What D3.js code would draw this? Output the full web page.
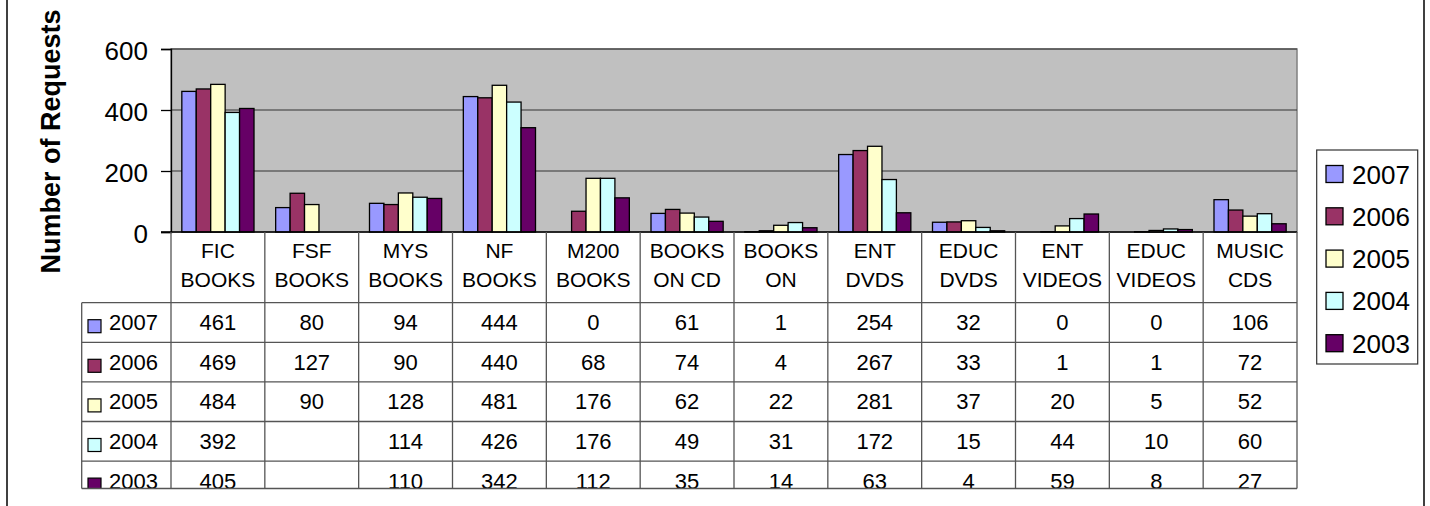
<!DOCTYPE html>
<html>
<head>
<meta charset="utf-8">
<script src="https://d3js.org/d3.v7.min.js"></script>
<style>
  body { margin: 0; background: #fff; }
  text { font-family: "Liberation Sans", Arial, sans-serif; fill: #000; }
</style>
</head>
<body>
<div id="chart"></div>
<script>
/* DATA */
// categories, split on two lines like the table header
let categories = ["FIC BOOKS", "FSF BOOKS", "MYS BOOKS", "NF BOOKS", "M200 BOOKS", "BOOKS ON CD",
  "BOOKS ON", "ENT DVDS", "EDUC DVDS", "ENT VIDEOS", "EDUC VIDEOS", "MUSIC CDS"]
let headerLines = [["FIC", "BOOKS"], ["FSF", "BOOKS"], ["MYS", "BOOKS"], ["NF", "BOOKS"], ["M200", "BOOKS"],
  ["BOOKS", "ON CD"], ["BOOKS", "ON"], ["ENT", "DVDS"], ["EDUC", "DVDS"], ["ENT", "VIDEOS"],
  ["EDUC", "VIDEOS"], ["MUSIC", "CDS"]]

let years = ["2007", "2006", "2005", "2004", "2003"]

let v2007 = [461, 80, 94, 444, 0, 61, 1, 254, 32, 0, 0, 106]
let v2006 = [469, 127, 90, 440, 68, 74, 4, 267, 33, 1, 1, 72]
let v2005 = [484, 90, 128, 481, 176, 62, 22, 281, 37, 20, 5, 52]
let v2004 = [392, null, 114, 426, 176, 49, 31, 172, 15, 44, 10, 60]
let v2003 = [405, null, 110, 342, 112, 35, 14, 63, 4, 59, 8, 27]

let yTicks = [0, 200, 400, 600]

let seriesValues = [v2007, v2006, v2005, v2004, v2003]
let colors = ["#9999FF", "#993366", "#FFFFCC", "#CCFFFF", "#660066"]

/* SVG OBJECT */
let svgWidth = 1430
let svgHeight = 506

let svg = d3.select("#chart").append("svg").attr("width", svgWidth).attr("height", svgHeight)

// outer chart frame (top and bottom are cut off in the picture)
svg.append("line").attr("x1", 7).attr("x2", 7).attr("y1", 0).attr("y2", svgHeight)
  .attr("stroke", "#404040").attr("stroke-width", 2)
svg.append("line").attr("x1", 1424).attr("x2", 1424).attr("y1", 0).attr("y2", svgHeight)
  .attr("stroke", "#404040").attr("stroke-width", 2)

/* PLOT AREA */
let plot = { left: 171, right: 1297, top: 49, bottom: 232 }

let x = d3.scaleBand().domain(categories).range([plot.left, plot.right]).padding(0)
let xYear = d3.scaleBand().domain(years).range([0, x.bandwidth()]).paddingInner(0).paddingOuter(0.75)
let y = d3.scaleLinear().domain([0, 600]).range([plot.bottom, plot.top])
let color = d3.scaleOrdinal().domain(years).range(colors)

// grey background
svg.append("rect")
  .attr("x", plot.left).attr("y", plot.top)
  .attr("width", plot.right - plot.left).attr("height", plot.bottom - plot.top)
  .attr("fill", "#C0C0C0").attr("stroke", "#808080").attr("stroke-width", 1.5)

// gridlines
svg.append("g")
  .selectAll("line")
  .data(yTicks.filter(d => d > 0))
  .join("line")
  .attr("x1", plot.left).attr("x2", plot.right)
  .attr("y1", d => y(d)).attr("y2", d => y(d))
  .attr("stroke", "#333").attr("stroke-width", 1.2)

// bars
let rows = []
years.forEach((yr, i) => {
  seriesValues[i].forEach((v, j) => {
    if (v !== null) rows.push({ year: yr, cat: categories[j], value: v })
  })
})

svg.append("g")
  .selectAll("rect")
  .data(rows)
  .join("rect")
  .attr("x", d => x(d.cat) + xYear(d.year))
  .attr("y", d => y(d.value))
  .attr("width", xYear.bandwidth())
  .attr("height", d => y(0) - y(d.value))
  .attr("fill", d => color(d.year))
  .attr("stroke", "#000").attr("stroke-width", 1.3)

// y axis
let yAxis = svg.append("g")
  .attr("transform", `translate(${plot.left},0)`)
  .call(d3.axisLeft(y).tickValues(yTicks).tickSize(10).tickPadding(13))
yAxis.select(".domain").attr("stroke", "#000").attr("stroke-width", 1.3)
yAxis.selectAll(".tick line").attr("stroke", "#000").attr("stroke-width", 1.3)
yAxis.selectAll(".tick text")
  .style("font-size", "26px").attr("font-family", null).attr("dy", "0.42em")

// baseline
svg.append("line")
  .attr("x1", plot.left - 10).attr("x2", plot.right)
  .attr("y1", y(0)).attr("y2", y(0))
  .attr("stroke", "#000").attr("stroke-width", 1.3)

// axis title
svg.append("text")
  .attr("transform", `translate(60,${(plot.top + plot.bottom) / 2 + 1}) rotate(-90)`)
  .attr("text-anchor", "middle")
  .style("font-size", "27px").style("font-weight", "bold")
  .text("Number of Requests")

/* DATA TABLE */
let rowTop = 302.7
let rowH = 39.6
let tableLeft = 81.7
let tableBottom = 488.5

svg.append("clipPath").attr("id", "tableClip")
  .append("rect").attr("x", 0).attr("y", plot.bottom).attr("width", svgWidth).attr("height", tableBottom - plot.bottom)

let table = svg.append("g").attr("clip-path", "url(#tableClip)")

// header texts
let header = table.append("g")
  .selectAll("text")
  .data(categories)
  .join("text")
  .attr("x", d => x(d) + x.bandwidth() / 2)
  .attr("y", plot.bottom + 26)
  .attr("text-anchor", "middle")
  .style("font-size", "21px")
header.selectAll("tspan")
  .data((d, i) => headerLines[i])
  .join("tspan")
  .attr("x", function () { return d3.select(this.parentNode).attr("x") })
  .attr("dy", (d, i) => i === 0 ? 0 : 29)
  .text(d => d)

// cell values
years.forEach((yr, i) => {
  let top = rowTop + i * rowH
  table.append("g")
    .selectAll("text")
    .data(seriesValues[i])
    .join("text")
    .attr("x", (d, j) => x(categories[j]) + x.bandwidth() / 2)
    .attr("y", top + 27.5)
    .attr("text-anchor", "middle")
    .style("font-size", "22px")
    .text(d => d === null ? "" : d)

  // row label with colour key
  table.append("rect")
    .attr("x", 88).attr("y", top + 17)
    .attr("width", 13).attr("height", 13)
    .attr("fill", color(yr)).attr("stroke", "#000").attr("stroke-width", 1.2)
  table.append("text")
    .attr("x", 109).attr("y", top + 27.5)
    .style("font-size", "22px")
    .text(yr)
})

// table grid
let grid = svg.append("g").attr("stroke", "#555").attr("stroke-width", 1.3)
// horizontal row separators
grid.selectAll("line.h")
  .data(d3.range(years.length + 1))
  .join("line")
  .attr("class", "h")
  .attr("x1", tableLeft).attr("x2", plot.right)
  .attr("y1", i => Math.min(rowTop + i * rowH, tableBottom))
  .attr("y2", i => Math.min(rowTop + i * rowH, tableBottom))
// vertical column separators
grid.selectAll("line.v")
  .data(categories.concat(["end"]))
  .join("line")
  .attr("class", "v")
  .attr("x1", d => d === "end" ? plot.right : x(d))
  .attr("x2", d => d === "end" ? plot.right : x(d))
  .attr("y1", plot.bottom).attr("y2", tableBottom)
// left edge of row labels
grid.append("line")
  .attr("x1", tableLeft).attr("x2", tableLeft)
  .attr("y1", rowTop).attr("y2", tableBottom)

/* LEGEND */
let legend = svg.append("g")
legend.append("rect")
  .attr("x", 1316.7).attr("y", 150)
  .attr("width", 101).attr("height", 214)
  .attr("fill", "#fff").attr("stroke", "#333").attr("stroke-width", 1.2)

let legendItems = legend.selectAll("g.item")
  .data(years)
  .join("g")
  .attr("class", "item")
  .attr("transform", (d, i) => `translate(0,${174 + i * 42.3})`)
legendItems.append("rect")
  .attr("x", 1326).attr("y", -8.5)
  .attr("width", 17).attr("height", 17)
  .attr("fill", d => color(d)).attr("stroke", "#000").attr("stroke-width", 1.3)
legendItems.append("text")
  .attr("x", 1352).attr("y", 9.5)
  .style("font-size", "26px")
  .text(d => d)
</script>
</body>
</html>
